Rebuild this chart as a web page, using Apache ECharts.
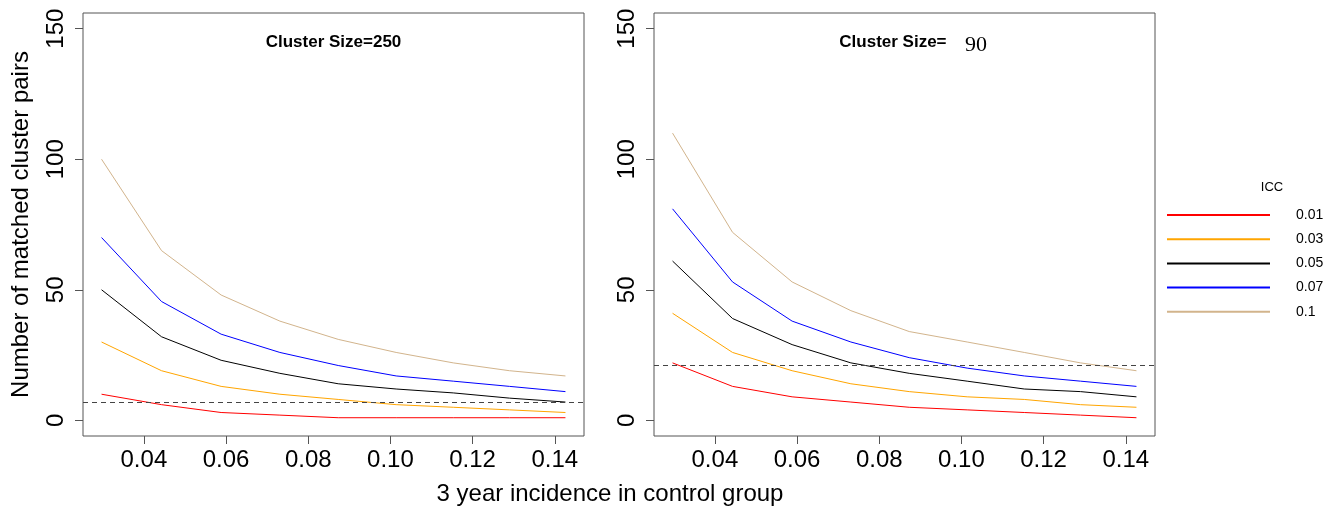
<!DOCTYPE html>
<html>
<head>
<meta charset="utf-8">
<script src="https://cdn.jsdelivr.net/npm/echarts@6/dist/echarts.min.js"></script>
<style>
html,body{margin:0;padding:0;background:#fff;}
#chart{width:1335px;height:508px;}
</style>
</head>
<body>
<div id="chart"></div>
<script>
// ---- data ----
const xIncidence = [0.0297, 0.0443, 0.0588, 0.0731, 0.0873, 0.1014, 0.1153, 0.1290, 0.1426];
const iccLevels = ['0.01', '0.03', '0.05', '0.07', '0.1'];
const iccColors = ['#FF0000', '#FFA500', '#000000', '#0000FF', '#D2B48C'];

const pairs250_icc001 = [10, 6, 3, 2, 1, 1, 1, 1, 1];
const pairs250_icc003 = [30, 19, 13, 10, 8, 6, 5, 4, 3];
const pairs250_icc005 = [50, 32, 23, 18, 14, 12, 10.5, 8.5, 7];
const pairs250_icc007 = [70, 45.5, 33, 26, 21, 17, 15, 13, 11];
const pairs250_icc010 = [100, 65, 48, 38, 31, 26, 22, 19, 17];

const pairs90_icc001 = [22, 13, 9, 7, 5, 4, 3, 2, 1];
const pairs90_icc003 = [41, 26, 19, 14, 11, 9, 8, 6, 5];
const pairs90_icc005 = [61, 39, 29, 22, 18, 15, 12, 11, 9];
const pairs90_icc007 = [81, 53, 38, 30, 24, 20, 17, 15, 13];
const pairs90_icc010 = [110, 72, 53, 42, 34, 30, 26, 22, 19];

const clusterSizes = ['250', '90'];
const thresholds = [7, 21];
const xTicks = [0.04, 0.06, 0.08, 0.10, 0.12, 0.14];
const yTicks = [0, 50, 100, 150];
const yRange = [0, 150];

// ---- build ----
const panels = [
  [pairs250_icc001, pairs250_icc003, pairs250_icc005, pairs250_icc007, pairs250_icc010],
  [pairs90_icc001, pairs90_icc003, pairs90_icc005, pairs90_icc007, pairs90_icc010]
];

// R-style 4% axis extension
const xr = Math.max(...xIncidence) - Math.min(...xIncidence);
const xMin = Math.min(...xIncidence) - 0.04 * xr;
const xMax = Math.max(...xIncidence) + 0.04 * xr;
const yr = yRange[1] - yRange[0];
const yMin = yRange[0] - 0.04 * yr;
const yMax = yRange[1] + 0.04 * yr;

const FONT = "'Liberation Sans', Arial, sans-serif";
const frameColor = '#555';

const grids = [
  {left: 83, top: 13, width: 501, height: 423},
  {left: 654, top: 13, width: 501, height: 423}
].map(g => Object.assign(g, {show: true, borderColor: frameColor, borderWidth: 1, backgroundColor: 'transparent', containLabel: false}));

const xAxes = grids.map((g, i) => ({
  type: 'value', gridIndex: i, min: xMin, max: xMax,
  axisLine: {show: false, onZero: false},
  splitLine: {show: false},
  axisTick: {show: true, customValues: xTicks, length: 8, lineStyle: {color: frameColor, width: 1}},
  axisLabel: {customValues: xTicks, margin: 12, fontSize: 24, lineHeight: 24, fontFamily: FONT, color: '#000',
    formatter: v => v.toFixed(2)}
}));

const yAxes = grids.map((g, i) => ({
  type: 'value', gridIndex: i, min: yMin, max: yMax,
  axisLine: {show: false, onZero: false},
  splitLine: {show: false},
  axisTick: {show: true, customValues: yTicks, length: 8, lineStyle: {color: frameColor, width: 1}},
  axisLabel: {customValues: yTicks, rotate: 90, margin: 15, fontSize: 24, lineHeight: 24, fontFamily: FONT, color: '#000'}
}));

const series = [];
panels.forEach((panel, p) => {
  panel.forEach((vals, k) => {
    const s = {
      name: iccLevels[k], type: 'line', xAxisIndex: p, yAxisIndex: p,
      data: vals.map((v, j) => [xIncidence[j], v]),
      showSymbol: false, symbol: 'none',
      lineStyle: {color: iccColors[k], width: 1},
      itemStyle: {color: iccColors[k]},
      emphasis: {disabled: true}, silent: true, z: 3
    };
    if (k === 0) {
      s.markLine = {
        silent: true, symbol: 'none', label: {show: false},
        lineStyle: {color: '#444', type: [5, 4], width: 1},
        data: [{yAxis: thresholds[p]}]
      };
    }
    series.push(s);
  });
});

const chart = echarts.init(document.getElementById('chart'), null, {renderer: 'canvas'});
chart.setOption({
  animation: false,
  backgroundColor: '#fff',
  grid: grids, xAxis: xAxes, yAxis: yAxes, series: series,
  legend: {
    orient: 'vertical', left: 1162, top: 200, data: iccLevels,
    icon: 'rect', itemWidth: 103, itemHeight: 2, itemGap: 4.2,
    selectedMode: false,
    textStyle: {fontSize: 14, lineHeight: 14, fontFamily: FONT, color: '#000', padding: [6, 0, 0, 21]}
  },
  graphic: [
    {type: 'text', x: 333.5, y: 42.5, style: {text: 'Cluster Size=' + clusterSizes[0], font: "bold 17px " + FONT, fill: '#000', textAlign: 'center', textVerticalAlign: 'middle'}},
    {type: 'text', x: 839.3, y: 42.5, style: {text: 'Cluster Size=', font: "bold 17px " + FONT, fill: '#000', textAlign: 'left', textVerticalAlign: 'middle'}},
    {type: 'text', x: 965, y: 45, style: {text: clusterSizes[1], font: "22px 'Liberation Serif', 'Times New Roman', serif", fill: '#000', textAlign: 'left', textVerticalAlign: 'middle'}},
    {type: 'text', x: 1272, y: 187.7, style: {text: 'ICC', font: "13px " + FONT, fill: '#000', textAlign: 'center', textVerticalAlign: 'middle'}},
    {type: 'text', x: 610, y: 494, style: {text: '3 year incidence in control group', font: "24px " + FONT, fill: '#000', textAlign: 'center', textVerticalAlign: 'middle'}},
    {type: 'text', x: 21, y: 224.5, rotation: Math.PI / 2, style: {text: 'Number of matched cluster pairs', font: "24px " + FONT, fill: '#000', textAlign: 'center', textVerticalAlign: 'middle'}}
  ]
});
</script>
</body>
</html>
